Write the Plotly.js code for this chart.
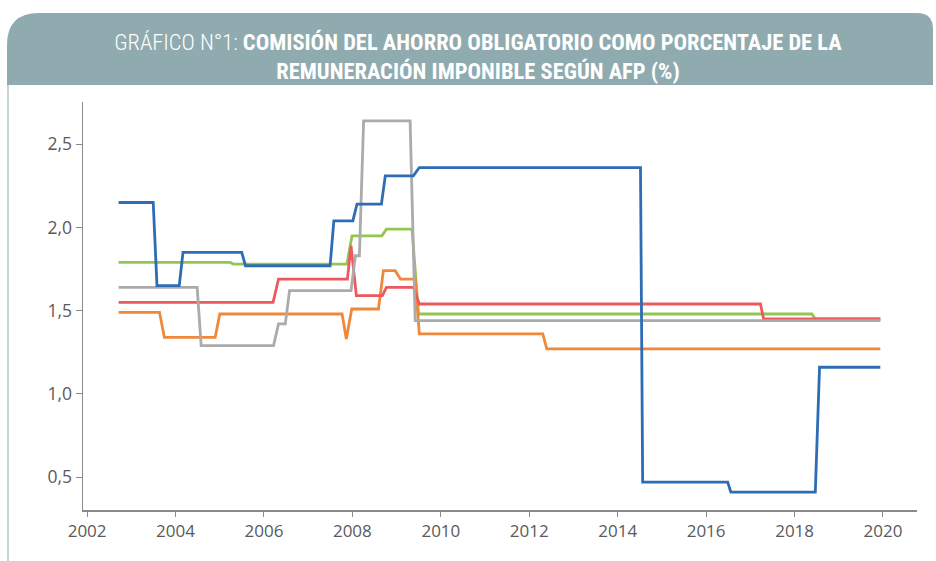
<!DOCTYPE html>
<html>
<head>
<meta charset="utf-8">
<script src="https://cdn.plot.ly/plotly-3.0.1.min.js"></script>
<style>
  html, body { margin: 0; padding: 0; background: #ffffff; }
  #chart { width: 936px; height: 561px; }
</style>
</head>
<body>
<div id="chart"></div>
<script>
// ---- Data ----
const blueDates = ["2002-09-18","2003-07-01","2003-08-01","2004-02-01","2004-03-03","2005-07-01","2005-08-01","2007-07-01","2007-08-01","2008-01-05","2008-02-08","2008-08-28","2008-09-29","2009-05-19","2009-07-07","2014-07-08","2014-07-26","2016-06-27","2016-07-23","2018-06-21","2018-07-26","2019-12-10"];
const blueValues = [2.15,2.15,1.65,1.65,1.85,1.85,1.77,1.77,2.04,2.04,2.14,2.14,2.31,2.31,2.36,2.36,0.47,0.47,0.41,0.41,1.16,1.16];

const greenDates = ["2002-09-18","2005-03-28","2005-04-23","2007-11-17","2007-12-29","2008-09-01","2008-10-08","2009-05-08","2009-07-01","2018-05-24","2018-06-21","2019-12-10"];
const greenValues = [1.79,1.79,1.78,1.78,1.95,1.95,1.99,1.99,1.48,1.48,1.45,1.45];

const redDates = ["2002-09-18","2006-03-17","2006-05-01","2007-11-21","2007-12-21","2008-02-03","2008-09-05","2008-10-08","2009-05-19","2009-07-07","2017-03-25","2017-04-20","2019-12-10"];
const redValues = [1.55,1.55,1.69,1.69,1.89,1.59,1.59,1.64,1.64,1.54,1.54,1.45,1.45];

const greyDates = ["2002-09-18","2004-06-28","2004-07-31","2006-03-21","2006-05-01","2006-06-26","2006-07-31","2007-12-21","2008-01-26","2008-02-28","2008-04-03","2009-04-22","2009-06-03","2019-12-10"];
const greyValues = [1.64,1.64,1.29,1.29,1.42,1.42,1.62,1.62,1.83,1.83,2.64,2.64,1.44,1.44];

const orangeDates = ["2002-09-18","2003-08-22","2003-10-01","2004-11-24","2005-01-01","2007-10-08","2007-11-12","2007-12-27","2008-08-04","2008-09-13","2008-12-20","2009-02-01","2009-06-03","2009-07-07","2012-04-22","2012-05-25","2019-12-10"];
const orangeValues = [1.49,1.49,1.34,1.34,1.48,1.48,1.33,1.51,1.51,1.74,1.74,1.69,1.69,1.36,1.36,1.27,1.27];

const yTickValues = [0.5, 1.0, 1.5, 2.0, 2.5];
const titleLight = "GRÁFICO N°1: ";
const titleBold1 = "COMISIÓN DEL AHORRO OBLIGATORIO COMO PORCENTAJE DE LA";
const titleBold2 = "REMUNERACIÓN IMPONIBLE SEGÚN AFP (%)";

// ---- Layout geometry ----
const W = 936, H = 561;
const M = { l: 83, r: 19, t: 102, b: 51 };
const PW = W - M.l - M.r, PH = H - M.t - M.b;
const px = x => ((x - M.l) / PW).toFixed(5);
const py = y => ((H - M.b - y) / PH).toFixed(5);

function mk(dates, values, color, name) {
  return { x: dates, y: values, type: "scatter", mode: "lines", name: name,
           line: { color: color, width: 2.8 }, hoverinfo: "skip" };
}

const traces = [
  mk(greenDates, greenValues, "#93c552", "green"),
  mk(orangeDates, orangeValues, "#f0883b", "orange"),
  mk(redDates, redValues, "#ec5a5f", "red"),
  mk(greyDates, greyValues, "#ababab", "grey"),
  mk(blueDates, blueValues, "#2e6db4", "blue")
];

// header card path with rounded top corners
const L = 7, R = 933, T = 13, B = 85, r1 = 32, r2 = 16;
const headerPath = "M " + px(L) + "," + py(B) +
  " L " + px(L) + "," + py(T + r1) +
  " Q " + px(L) + "," + py(T) + " " + px(L + r1) + "," + py(T) +
  " L " + px(R - r2) + "," + py(T) +
  " Q " + px(R) + "," + py(T) + " " + px(R) + "," + py(T + r2) +
  " L " + px(R) + "," + py(B) + " Z";

const layout = {
  width: W, height: H,
  margin: M,
  paper_bgcolor: "#ffffff",
  plot_bgcolor: "#ffffff",
  showlegend: false,
  separators: ",.",
  font: { family: "Open Sans, sans-serif", color: "#5a5a5a", size: 17 },
  title: {
    text: "<span style=\"font-weight:300\">" + titleLight + "</span><b>" + titleBold1 + "</b><br><b>" + titleBold2 + "</b>",
    font: { family: "Roboto Condensed, Roboto, sans-serif", size: 22.5, color: "#ffffff" },
    x: 478 / W, xanchor: "center", xref: "container",
    y: 1 - 50 / H, yanchor: "middle", yref: "container"
  },
  xaxis: {
    type: "date",
    range: ["2001-11-28", "2020-10-08"],
    tick0: "2002-01-01", dtick: "M24", tickformat: "%Y",
    showgrid: false, zeroline: false,
    showline: true, linecolor: "#8a8a8a", linewidth: 1.5,
    ticks: "outside", ticklen: 5, tickcolor: "#8a8a8a", tickwidth: 1,
    tickfont: { size: 17, color: "#5a5a5a" }
  },
  yaxis: {
    range: [0.302, 2.754],
    tickvals: yTickValues, tickformat: ".1f",
    showgrid: false, zeroline: false,
    showline: true, linecolor: "#8a8a8a", linewidth: 1.5,
    ticks: "outside", ticklen: 6, tickcolor: "#8a8a8a", tickwidth: 1,
    tickfont: { size: 17.5, color: "#5a5a5a" }
  },
  shapes: [
    { type: "path", xref: "paper", yref: "paper", path: headerPath,
      fillcolor: "#8fabaf", line: { width: 0 }, layer: "below" },
    { type: "line", xref: "paper", yref: "paper",
      x0: px(8), x1: px(8), y0: py(B), y1: py(H),
      line: { color: "#c3d5d8", width: 2 }, layer: "below" }
  ]
};

Plotly.newPlot("chart", traces, layout, { displayModeBar: false, staticPlot: true });
</script>
</body>
</html>
